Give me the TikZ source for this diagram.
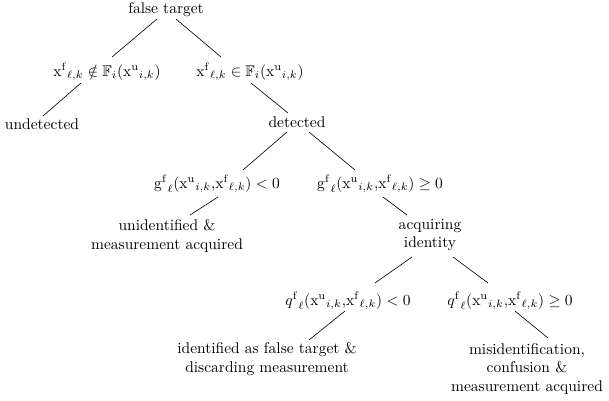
\documentclass[tikz,border=0pt]{standalone}
\usepackage{amsmath,amssymb}
\begin{document}
\begin{tikzpicture}[x=0.645pt,y=-0.645pt,
  lbl/.style={inner sep=0pt,align=center,font=\normalsize},
  branch/.style={draw=black,line width=0.4pt}]
\useasboundingbox (0,0) rectangle (609,401);
% nodes
\node[lbl] (ft)    at (166,10)  {false target};
\node[lbl] (notin) at (107,72)  {${\mathrm{x}^{\mathrm{f}}}_{\ell,k} \notin \mathbb{F}_i({\mathrm{x}^{\mathrm{u}}}_{i,k})$};
\node[lbl] (in)    at (250,72)  {${\mathrm{x}^{\mathrm{f}}}_{\ell,k} \in \mathbb{F}_i({\mathrm{x}^{\mathrm{u}}}_{i,k})$};
\node[lbl] (undet) at (42,124)  {undetected};
\node[lbl] (det)   at (297,122) {detected};
\node[lbl] (gneg)  at (217,184) {${\mathrm{g}^{\mathrm{f}}}_{\ell}({\mathrm{x}^{\mathrm{u}}}_{i,k}{,}{\mathrm{x}^{\mathrm{f}}}_{\ell,k}) < 0$};
\node[lbl] (gpos)  at (380,184) {${\mathrm{g}^{\mathrm{f}}}_{\ell}({\mathrm{x}^{\mathrm{u}}}_{i,k}{,}{\mathrm{x}^{\mathrm{f}}}_{\ell,k}) \geq 0$};
\node[lbl] (unid)  at (167,236) {unidentified \&\\measurement acquired};
\node[lbl] (acq)   at (430,235) {acquiring\\identity};
\node[lbl] (qneg)  at (348,301) {${q^{\mathrm{f}}}_{\ell}({\mathrm{x}^{\mathrm{u}}}_{i,k}{,}{\mathrm{x}^{\mathrm{f}}}_{\ell,k}) < 0$};
\node[lbl] (qpos)  at (510,301) {${q^{\mathrm{f}}}_{\ell}({\mathrm{x}^{\mathrm{u}}}_{i,k}{,}{\mathrm{x}^{\mathrm{f}}}_{\ell,k}) \geq 0$};
\node[lbl] (ident) at (267,359) {identified as false target \&\\discarding measurement};
\node[lbl] (misid) at (527,369) {misidentification,\\confusion \&\\measurement acquired};
% connectors
\draw[branch] ([shift={(-9,9)}]ft.center)    -- ([shift={(5,-15)}]notin.center);
\draw[branch] ([shift={(10,9)}]ft.center)    -- ([shift={(-29,-15)}]in.center);
\draw[branch] ([shift={(-26,11)}]notin.center) -- ([shift={(1,-8)}]undet.center);
\draw[branch] ([shift={(1,11)}]in.center)    -- ([shift={(-9,-9)}]det.center);
\draw[branch] ([shift={(-10,10)}]det.center) -- ([shift={(26,-14)}]gneg.center);
\draw[branch] ([shift={(12,10)}]det.center)  -- ([shift={(-25,-14)}]gpos.center);
\draw[branch] ([shift={(1,13)}]gneg.center)  -- ([shift={(23,-21)}]unid.center);
\draw[branch] ([shift={(3,13)}]gpos.center)  -- ([shift={(-23,-20)}]acq.center);
\draw[branch] ([shift={(-18,22)}]acq.center) -- ([shift={(27,-18)}]qneg.center);
\draw[branch] ([shift={(23,22)}]acq.center)  -- ([shift={(-22,-18)}]qpos.center);
\draw[branch] ([shift={(-3,10)}]qneg.center) -- ([shift={(42,-19)}]ident.center);
\draw[branch] ([shift={(5,10)}]qpos.center)  -- ([shift={(21,-31)}]misid.center);
\end{tikzpicture}
\end{document}
